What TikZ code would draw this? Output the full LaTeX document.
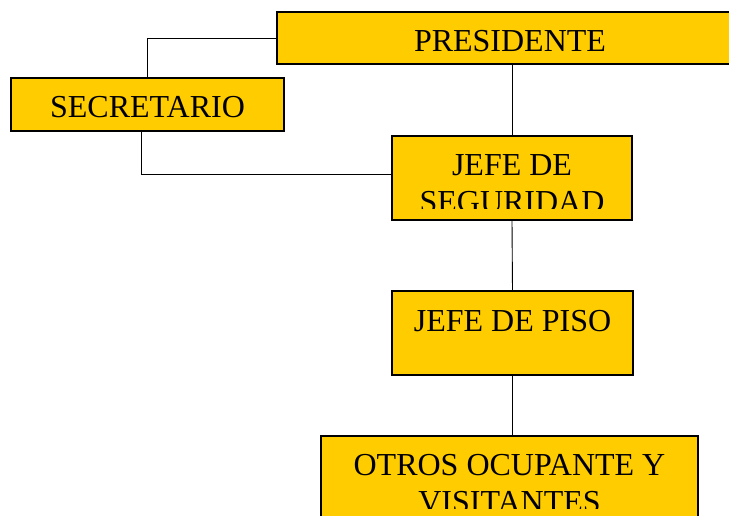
\documentclass[tikz,border=0pt]{standalone}
\usepackage{fontspec}
\setmainfont{Liberation Serif}
\definecolor{cargo}{RGB}{255,204,0}

\begin{document}
\begin{tikzpicture}[x=1pt,y=-1pt,
  caja/.style={rectangle,fill=cargo,draw,line width=1.4pt,inner sep=0pt},
  rotulo/.style={anchor=base,align=center,inner sep=0pt,font=\fontsize{32}{37}\selectfont},
  linea/.style={draw,line width=0.9pt}]
\useasboundingbox (0,0) rectangle (729,516);
\node[caja,minimum width=466pt,minimum height=52pt] (pres) at (510,38) {};
\node[caja,minimum width=273pt,minimum height=53pt] (sec) at (147.5,104.5) {};
\node[caja,minimum width=240pt,minimum height=84pt] (seg) at (512,178) {};
\node[caja,minimum width=241pt,minimum height=84pt] (piso) at (512.5,333) {};
\node[caja,minimum width=377pt,minimum height=110pt] (otros) at (509.5,491) {};
\node[rotulo] (tpres) at ([yshift=-40pt]pres.north) {PRESIDENTE};
\node[rotulo] (tsec) at ([yshift=-40pt]sec.north) {SECRETARIO};
\node[rotulo] (tpiso) at ([yshift=-41pt]piso.north) {JEFE DE PISO};
% two lines: base is on the last line
\begin{scope}
\clip (seg.north west) rectangle ([yshift=-73pt]seg.north east);
\node[rotulo] (tseg) at ([yshift=-77pt]seg.north) {JEFE DE\\SEGURIDAD};
\end{scope}
\begin{scope}
\clip (otros.north west) rectangle ([yshift=-73pt]otros.north east);
\node[rotulo] (totros) at ([yshift=-77pt]otros.north) {OTROS OCUPANTE Y\\VISITANTES};
\end{scope}
\path[linea] (pres.west) -| (sec.north);
\path[linea] ([xshift=-6pt]sec.south) |- ([yshift=4pt]seg.west);
\path[linea] (seg.north |- pres.south) -- (seg.north);
\path[linea] (seg.south) -- (piso.north);
\path[linea] (piso.south) -- (piso.south |- otros.north);
\end{tikzpicture}
\end{document}
